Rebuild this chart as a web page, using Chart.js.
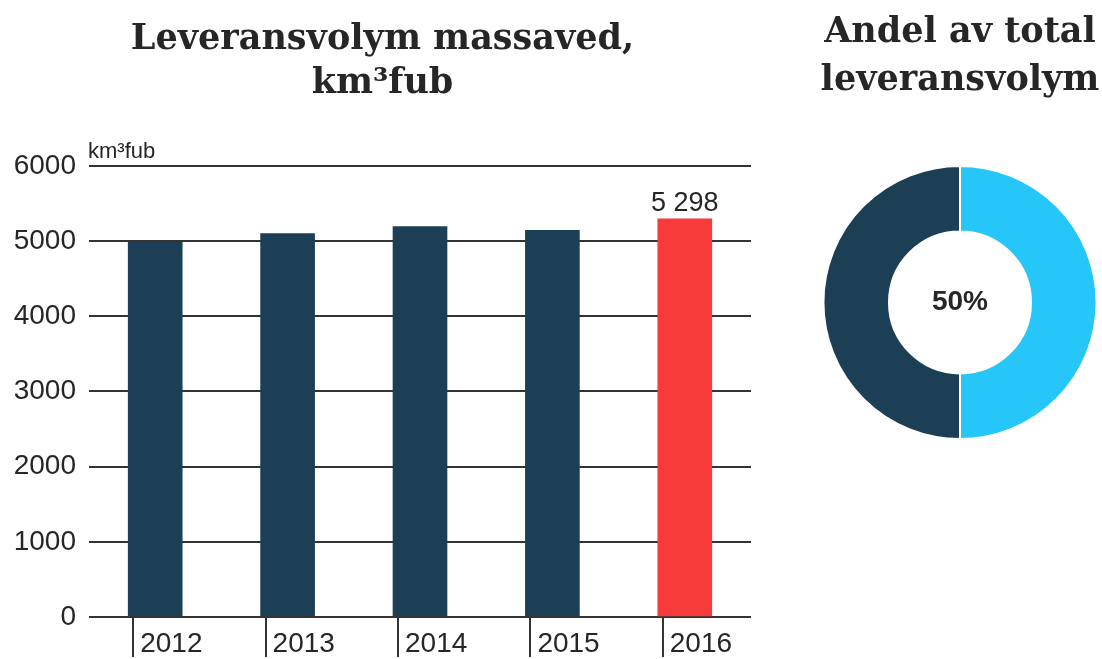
<!DOCTYPE html>
<html>
<head>
<meta charset="utf-8">
<script src="https://cdn.jsdelivr.net/npm/chart.js@4"></script>
<style>
  html, body { margin: 0; padding: 0; background: #fff; }
  #wrap { position: relative; width: 1102px; height: 659px; overflow: hidden; }
  #barBox { position: absolute; left: 0; top: 0; width: 778px; height: 659px; }
  #pieBox { position: absolute; left: 818px; top: 0; width: 284px; height: 450px; }
</style>
</head>
<body>
<div id="wrap">
  <div id="barBox"><canvas id="bars"></canvas></div>
  <div id="pieBox"><canvas id="pie"></canvas></div>
</div>
<script>
// ── Data ────────────────────────────────────────────────────────
const years   = ['2012', '2013', '2014', '2015', '2016'];
const volumes = [4990, 5100, 5195, 5145, 5298];
const yTicks  = [0, 1000, 2000, 3000, 4000, 5000, 6000];
const unitLabel = 'km³fub';

const shareLabels = ['Massaved', 'Övrigt'];
const shareValues = [50, 50];
const shareText   = '50%';

const NAVY = '#1d3f55';
const RED  = '#f73b3b';
const SKY  = '#27c6f8';
const INK  = '#262626';

// ── Bar chart extras: unit label, value label, tick marks ───────
const barExtras = {
    id: 'barExtras',
    afterDraw(chart) {
        const { ctx, chartArea, scales } = chart;
        const meta = chart.getDatasetMeta(0);
        ctx.save();
        // unit above the top line
        ctx.fillStyle = INK;
        ctx.font = "22px 'Liberation Sans'";
        ctx.textAlign = 'left';
        ctx.textBaseline = 'alphabetic';
        ctx.fillText(unitLabel, chartArea.left - 1, chartArea.top - 8);
        // value label on the last bar
        const last = meta.data[meta.data.length - 1];
        const v = volumes[volumes.length - 1];
        ctx.font = "27px 'Liberation Sans'";
        ctx.textAlign = 'center';
        ctx.fillText(String(v).replace(/\B(?=(\d{3})+$)/, ' '), last.x, last.y - 8);
        // tick marks below the axis, left of each label
        ctx.strokeStyle = '#333';
        ctx.lineWidth = 2;
        years.forEach((_, i) => {
            const x = Math.round(scales.x.getPixelForValue(i) - 22);
            ctx.beginPath();
            ctx.moveTo(x, chartArea.bottom + 1);
            ctx.lineTo(x, chartArea.bottom + 40);
            ctx.stroke();
        });
        ctx.restore();
    }
};

new Chart(document.getElementById('bars'), {
    type: 'bar',
    data: {
        labels: years,
        datasets: [{
            data: volumes,
            backgroundColor: years.map((_, i) => i === years.length - 1 ? RED : NAVY),
            barThickness: 54
        }]
    },
    options: {
        responsive: true,
        maintainAspectRatio: false,
        animation: false,
        layout: { padding: { left: 14, right: 27, top: 0, bottom: 0 } },
        plugins: {
            legend: { display: false },
            tooltip: { enabled: false },
            title: {
                display: true,
                text: ['Leveransvolym massaved,', 'km³fub'],
                color: INK,
                font: { family: "'DejaVu Serif'", size: 35, weight: 'bold', lineHeight: 1.257 },
                padding: { top: 18, bottom: 60 }
            }
        },
        scales: {
            y: {
                min: 0, max: 6000,
                afterBuildTicks: (s) => { s.ticks = yTicks.map(v => ({ value: v })); },
                afterFit: (s) => { s.width = 75; },
                border: { display: false },
                grid: { color: '#333', lineWidth: 2, drawTicks: false },
                ticks: {
                    color: INK, padding: 13,
                    callback: (v) => String(v),
                    font: { family: "'Liberation Sans'", size: 28 }
                }
            },
            x: {
                afterFit: (s) => { s.height = 42; },
                border: { display: false },
                grid: { display: false, drawTicks: false },
                ticks: {
                    color: INK, padding: 10, align: 'start', labelOffset: -15,
                    font: { family: "'Liberation Sans'", size: 28 }
                }
            }
        }
    },
    plugins: [barExtras]
});

// ── Doughnut with centre text ───────────────────────────────────
const centreText = {
    id: 'centreText',
    afterDraw(chart) {
        const arc = chart.getDatasetMeta(0).data[0];
        const { ctx } = chart;
        ctx.save();
        ctx.fillStyle = INK;
        ctx.font = "bold 28px 'Liberation Sans'";
        ctx.textAlign = 'center';
        ctx.textBaseline = 'middle';
        ctx.fillText(shareText, arc.x, arc.y);
        ctx.restore();
    }
};

new Chart(document.getElementById('pie'), {
    type: 'doughnut',
    data: {
        labels: shareLabels,
        datasets: [{
            data: shareValues,
            backgroundColor: [SKY, NAVY],
            borderColor: '#fff',
            borderWidth: 2
        }]
    },
    options: {
        responsive: true,
        maintainAspectRatio: false,
        animation: false,
        cutout: '52%',
        layout: { padding: { bottom: 10 } },
        plugins: {
            legend: { display: false },
            tooltip: { enabled: false },
            title: {
                display: true,
                text: ['Andel av total', 'leveransvolym'],
                color: INK,
                font: { family: "'DejaVu Serif'", size: 35, weight: 'bold', lineHeight: 1.37 },
                padding: { top: 9, bottom: 60 }
            }
        }
    },
    plugins: [centreText]
});
</script>
</body>
</html>
